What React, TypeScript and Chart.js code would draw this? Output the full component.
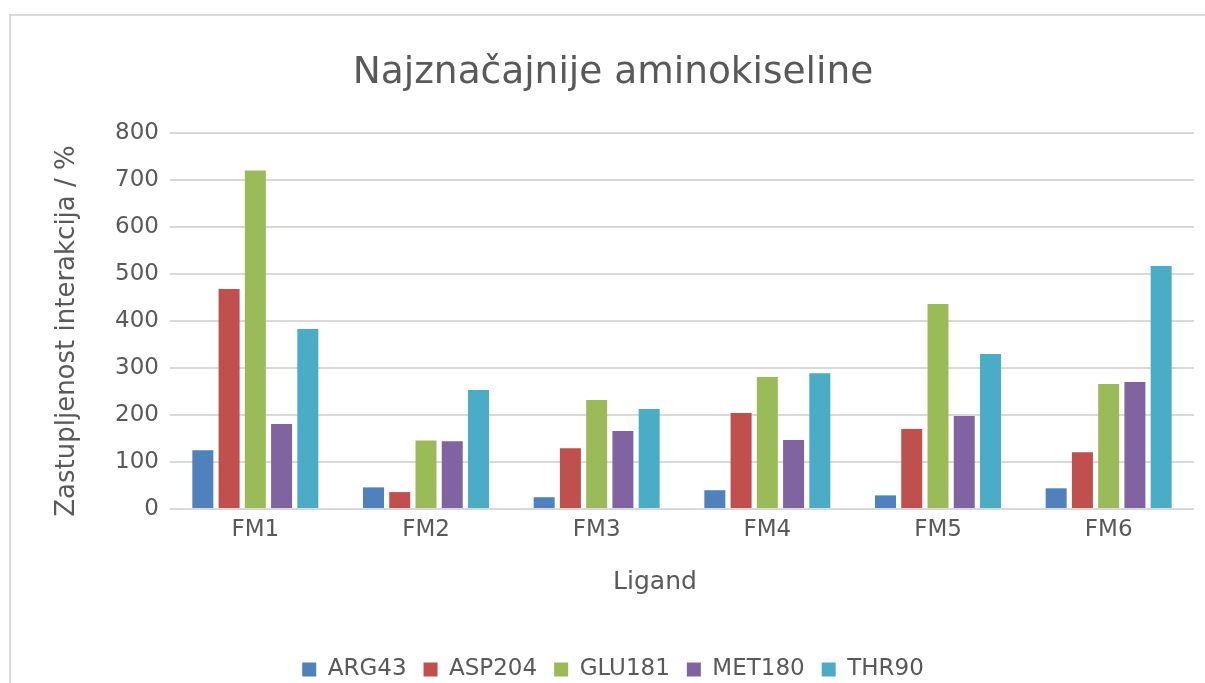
import React, { useEffect, useRef } from "react";
import { Chart, registerables } from "chart.js";

Chart.register(...registerables);

const categories = ["FM1", "FM2", "FM3", "FM4", "FM5", "FM6"];
const arg43 = [125, 46, 25, 40, 29, 44];
const asp204 = [468, 36, 129, 204, 170, 121];
const glu181 = [720, 146, 232, 281, 436, 266];
const met180 = [181, 144, 166, 147, 198, 270];
const thr90 = [383, 253, 213, 289, 330, 517];
const seriesNames = ["ARG43", "ASP204", "GLU181", "MET180", "THR90"];
const seriesColors = ["#4F81BD", "#C0504D", "#9BBB59", "#8064A2", "#4BACC6"];
const yMin = 0;
const yMax = 800;
const yStep = 100;

const titleText = "Najznačajnije aminokiseline";
const yTitle = "Zastupljenost interakcija / %";
const xTitle = "Ligand";

const FONT = "'DejaVu Sans', sans-serif";
const TEXT = "#595959";
const GRID = "#d9d9d9";

// Draws the two axis titles (Excel places them slightly off the plot centre).
const axisTitlesPlugin = {
  id: "axisTitles",
  afterDraw(chart: any) {
    const { ctx, chartArea } = chart;
    ctx.save();
    ctx.fillStyle = TEXT;
    ctx.textAlign = "center";
    ctx.textBaseline = "middle";
    ctx.font = "25px " + FONT;
    ctx.fillText(xTitle, (chartArea.left + chartArea.right) / 2 - 27, chartArea.bottom + 73);
    ctx.translate(67, (chartArea.top + chartArea.bottom) / 2 + 10);
    ctx.rotate(-Math.PI / 2);
    ctx.font = "26px " + FONT;
    ctx.fillText(yTitle, 0, 0);
    ctx.restore();
  },
};

export default function App() {
  const ref = useRef<HTMLCanvasElement | null>(null);

  useEffect(() => {
    if (!ref.current) return;
    const values = [arg43, asp204, glu181, met180, thr90];
    const chart = new Chart(ref.current, {
      type: "bar",
      data: {
        labels: categories,
        datasets: seriesNames.map((name, i) => ({
          label: name,
          data: values[i],
          backgroundColor: seriesColors[i],
          borderWidth: 0,
          categoryPercentage: 0.769,
          barPercentage: 0.8,
        })),
      },
      options: {
        responsive: false,
        animation: false,
        devicePixelRatio: 1,
        layout: { padding: { left: 32, right: 11, top: 0, bottom: 0 } },
        plugins: {
          title: {
            display: true,
            text: titleText,
            color: TEXT,
            font: { family: FONT, size: 37.5, weight: "normal" },
            padding: { top: 51, bottom: 37 },
          },
          legend: {
            display: true,
            position: "bottom",
            labels: {
              color: TEXT,
              font: { family: FONT, size: 23 },
              boxWidth: 14,
              boxHeight: 14,
              padding: 17,
            },
          },
          tooltip: { enabled: false },
        },
        scales: {
          x: {
            afterFit: (s: any) => {
              s.height = 132;
            },
            grid: { display: false, drawTicks: false },
            border: { display: false },
            ticks: {
              color: TEXT,
              font: { family: FONT, size: 23 },
              padding: 7,
            },
          },
          y: {
            min: yMin,
            max: yMax,
            afterFit: (s: any) => {
              s.width = 138;
            },
            grid: { color: GRID, lineWidth: 2, drawTicks: false },
            border: { display: false },
            ticks: {
              stepSize: yStep,
              color: TEXT,
              font: { family: FONT, size: 23 },
              padding: 11,
            },
          },
        },
      },
      plugins: [axisTitlesPlugin],
    });
    return () => chart.destroy();
  }, []);

  return (
    <div
      style={{
        position: "fixed",
        left: 0,
        top: 0,
        width: 1205,
        height: 683,
        overflow: "hidden",
        background: "#ffffff",
      }}
    >
      <div
        style={{
          position: "absolute",
          left: 9,
          top: 14,
          width: 1240,
          height: 720,
          border: "2px solid " + GRID,
          boxSizing: "border-box",
        }}
      />
      <canvas
        ref={ref}
        width={1205}
        height={691}
        style={{ position: "absolute", left: 0, top: 0, width: 1205, height: 691 }}
      />
    </div>
  );
}
